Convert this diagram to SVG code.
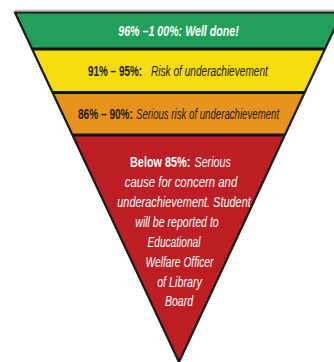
<svg xmlns="http://www.w3.org/2000/svg" width="334" height="362" viewBox="0 0 334 362">
<style>
  .band { stroke: none; }
  .sep { stroke: #111; stroke-width: 3; fill: none; }
  .outline { fill: none; stroke: #1a1a1a; stroke-width: 2.2; stroke-linejoin: miter; }
  text { font-family: "Liberation Sans", Arial, sans-serif; }
  .c { text-anchor: middle; }
  .s { text-anchor: start; }
  .w { fill: #ffffff; }
  .k { fill: #1a1a1a; }
  .bi { font-weight: bold; font-style: italic; }
  .b { font-weight: bold; }
  .i { font-style: italic; }
  .r { font-size: 14.5px; }
  .m { font-size: 14px; }
</style>
<rect width="334" height="362" fill="#ffffff"/>
<line x1="15" y1="10.5" x2="334" y2="10.5" stroke="#bdbdbd" stroke-width="1.5"/>
<g id="band-green">
  <polygon class="band" fill="#22a05a" points="15,12.5 342,12.5 324.9,49 32.1,49"/>
  <text class="w bi c" transform="translate(178.5,35.5) scale(0.735,1)" font-size="14.5">96% –1 00%: Well done!</text>
</g>
<g id="band-yellow">
  <polygon class="band" fill="#f5dc10" points="32.1,49 324.9,49 304.6,92.5 52.4,92.5"/>
  <text class="k b s m" transform="translate(88,76) scale(0.709,1)">91% – 95%:</text>
  <text class="k i s m" transform="translate(151,76) scale(0.723,1)">Risk of underachievement</text>
</g>
<g id="band-orange">
  <polygon class="band" fill="#e8921e" points="52.4,92.5 304.6,92.5 284.7,135 72.3,135"/>
  <text class="k b s m" transform="translate(78,118.5) scale(0.721,1)">86% – 90%:</text>
  <text class="k i s m" transform="translate(136,118.5) scale(0.689,1)">Serious risk of underachievement</text>
</g>
<g id="band-red">
  <polygon class="band" fill="#bd1e24" points="72.3,135 284.7,135 179,362"/>
  <text class="w b s r" transform="translate(130,166.5) scale(0.75,1)">Below 85%:</text>
  <text class="w i s r" transform="translate(194.5,166.5) scale(0.74,1)">Serious</text>
  <text class="w i c r" transform="translate(181,186.5) scale(0.785,1)">cause for concern and</text>
  <text class="w i c r" transform="translate(184,206.5) scale(0.753,1)">underachievement. Student</text>
  <text class="w i c r" transform="translate(177,226.5) scale(0.73,1)">will be reported to</text>
  <text class="w i c r" transform="translate(174,246.5) scale(0.70,1)">Educational</text>
  <text class="w i c r" transform="translate(179.5,266.5) scale(0.705,1)">Welfare Officer</text>
  <text class="w i c r" transform="translate(179.5,286.5) scale(0.74,1)">of Library</text>
  <text class="w i c r" transform="translate(179,305.5) scale(0.73,1)">Board</text>
</g>
<g id="frame">
  <line class="sep" x1="32.1" y1="49" x2="324.9" y2="49"/>
  <line class="sep" x1="52.4" y1="92.5" x2="304.6" y2="92.5"/>
  <line class="sep" x1="72.3" y1="135" x2="284.7" y2="135"/>
  <polygon class="outline" points="15,12.5 342,12.5 179,362"/>
</g>
</svg>
